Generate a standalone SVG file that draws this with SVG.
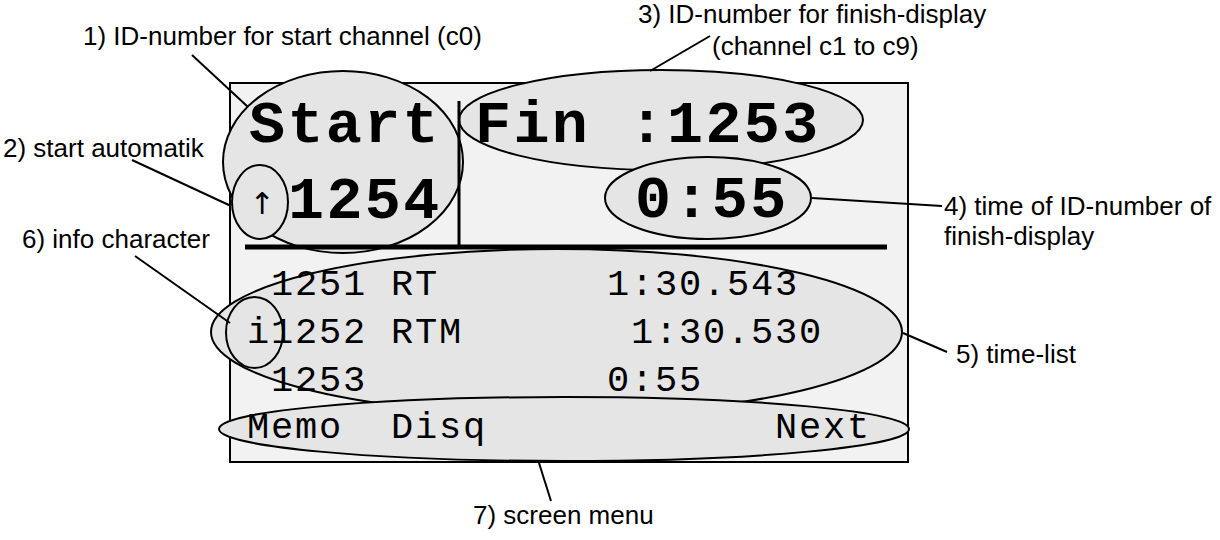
<svg xmlns="http://www.w3.org/2000/svg" width="1220" height="540" viewBox="0 0 1220 540">
<style>
.bg{fill:#ffffff}
.scr{fill:#f2f2f2;stroke:#000;stroke-width:2}
.ell{fill:#e5e5e5;stroke:#000;stroke-width:2}
.lead{stroke:#000;stroke-width:2;fill:none}
.rule{stroke:#000;fill:none}
.lbl{font-family:"Liberation Sans",Arial,sans-serif;font-size:26px;fill:#000}
.big{font-family:"Liberation Mono","Courier New",monospace;font-weight:bold;font-size:60px;letter-spacing:2.4px;fill:#000}
.mono{font-family:"Liberation Mono","Courier New",monospace;font-size:37px;letter-spacing:1.8px;fill:#000}
.arr{font-family:"DejaVu Sans",sans-serif;font-size:30px;fill:#000}
</style>
<rect class="bg" x="0" y="0" width="1220" height="540"/>
<g id="screen">
<rect class="scr" x="230" y="83" width="678" height="379"/>
</g>
<g id="start-field">
<ellipse class="ell" cx="343" cy="162" rx="120" ry="91"/>
</g>
<g id="finish-field">
<ellipse class="ell" cx="661" cy="120" rx="202" ry="50"/>
</g>
<g id="finish-time">
<ellipse class="ell" cx="708" cy="198" rx="103" ry="41"/>
</g>
<g id="time-list">
<ellipse class="ell" cx="556.5" cy="332" rx="345.5" ry="83"/>
</g>
<g id="screen-menu">
<ellipse class="ell" cx="564" cy="429" rx="345" ry="32"/>
</g>
<g id="dividers">
<line class="rule" x1="459" y1="101" x2="459" y2="247" stroke-width="3"/>
<line class="rule" x1="245" y1="247" x2="887" y2="247" stroke-width="5"/>
</g>
<g id="start-auto">
<ellipse class="ell" cx="260" cy="202" rx="28" ry="37"/>
<text class="arr" x="262" y="214" text-anchor="middle">↑</text>
</g>
<g id="info-char">
<ellipse cx="254.5" cy="332.5" rx="28.5" ry="35.5" style="fill:none;stroke:#000;stroke-width:2"/>
</g>
<g id="screen-text">
<text class="big" x="249" y="142">Start</text>
<text class="big" x="288" y="218">1254</text>
<text class="big" x="475" y="142">Fin :1253</text>
<text class="big" x="635" y="217">0:55</text>
<text class="mono" x="271" y="295">1251 RT</text>
<text class="mono" x="607" y="295">1:30.543</text>
<text class="mono" x="247" y="343">i1252 RTM</text>
<text class="mono" x="631" y="343">1:30.530</text>
<text class="mono" x="271" y="391">1253</text>
<text class="mono" x="607" y="391">0:55</text>
<text class="mono" x="247" y="438">Memo</text>
<text class="mono" x="391" y="438">Disq</text>
<text class="mono" x="775" y="438">Next</text>
</g>
<g id="connectors">
<line class="lead" x1="192" y1="55" x2="248" y2="107"/>
<line class="lead" x1="132" y1="160" x2="231" y2="206"/>
<line class="lead" x1="710" y1="36" x2="650" y2="71"/>
<line class="lead" x1="812" y1="198" x2="942" y2="206"/>
<line class="lead" x1="903" y1="333" x2="947" y2="352"/>
<line class="lead" x1="135" y1="256" x2="230" y2="323"/>
<line class="lead" x1="539" y1="463" x2="551" y2="501"/>
</g>
<g id="labels">
<text class="lbl" x="83" y="45">1) ID-number for start channel (c0)</text>
<text class="lbl" x="3" y="157">2) start automatik</text>
<text class="lbl" x="638" y="23">3) ID-number for finish-display</text>
<text class="lbl" x="712" y="55">(channel c1 to c9)</text>
<text class="lbl" x="944" y="215">4) time of ID-number of</text>
<text class="lbl" x="944" y="245">finish-display</text>
<text class="lbl" x="956" y="363">5) time-list</text>
<text class="lbl" x="22" y="248">6) info character</text>
<text class="lbl" x="473" y="524">7) screen menu</text>
</g>
</svg>
